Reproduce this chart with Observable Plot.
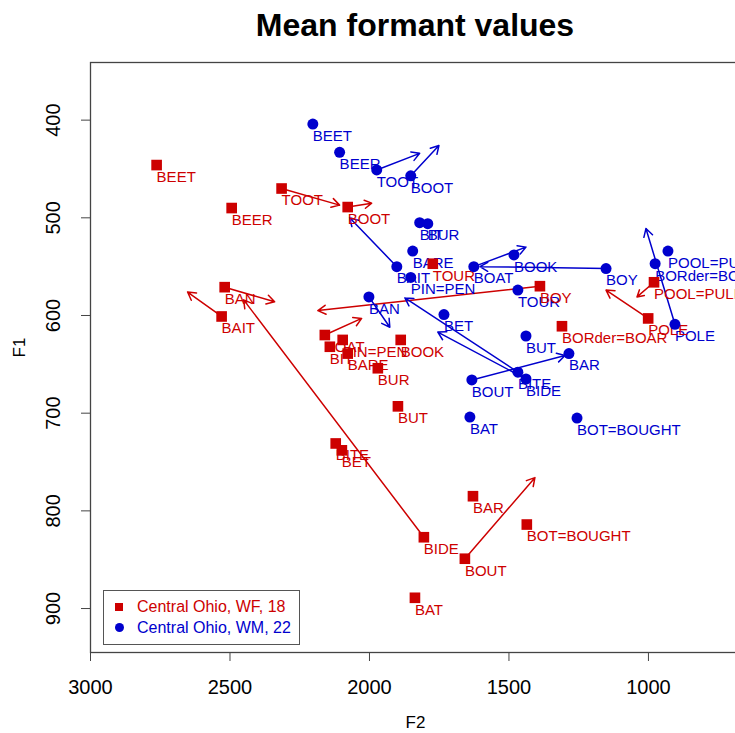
<!DOCTYPE html>
<html><head><meta charset="utf-8">
<script src="https://cdn.jsdelivr.net/npm/d3@7"></script>
<script src="https://cdn.jsdelivr.net/npm/@observablehq/plot@0.6"></script>
<style>
html,body{margin:0;padding:0;background:#fff;overflow:hidden;}
#wrap{position:relative;width:735px;height:733px;overflow:hidden;font-family:"Liberation Sans",Arial,Helvetica,sans-serif;}
#title{position:absolute;left:90px;width:650px;top:7px;text-align:center;font-weight:bold;font-size:32px;color:#000;}
#legend{position:absolute;left:103px;top:590px;width:197px;height:55px;box-sizing:border-box;border:1.5px solid #555;background:#fff;padding-top:5px;}
#legend .row{height:21px;line-height:21px;font-size:16px;white-space:nowrap;position:relative;padding-left:33px;}
#legend .sq{position:absolute;left:11px;top:7px;width:8px;height:8px;background:#cd0000;}
#legend .ci{position:absolute;left:11px;top:6px;width:9px;height:9px;border-radius:50%;background:#0000cd;}
</style></head>
<body>
<div id="wrap">
  <div id="chart"></div>
  <div id="title">Mean formant values</div>
  <div id="legend">
    <div class="row"><span class="sq"></span><span style="color:#cd0000">Central Ohio, WF, 18</span></div>
    <div class="row"><span class="ci"></span><span style="color:#0000cd">Central Ohio, WM, 22</span></div>
  </div>
</div>
<script>
// ---- data ----
const xTicks = [3000, 2500, 2000, 1500, 1000];
const yTicks = [400, 500, 600, 700, 800, 900];

// Central Ohio, WF, 18 (red squares)
const wfWords = ["BEET","BEER","TOOT","BOOT","BAN","BAIT","BOAT","BIT","PIN=PEN","BARE","BOOK","BUR","BUT","BITE","BET","BIDE","BOUT","BAR","BOT=BOUGHT","BAT","TOUR","BOY","BORder=BOAR","POLE","POOL=PULL"];
const wfF2 = [2763,2494,2315,2078,2519,2530,2160,2142,2096,2078,1888,1970,1898,2121,2099,1805,1658,1629,1436,1837,1773,1389,1310,1001,980];
const wfF1 = [446,490,470,489,571,601,620,632,625,639,625,654,693,731,738,827,849,785,814,889,547,570,611,603,566];
const wfF2end = [null,null,2107,1992,2340,2652,2028,null,null,null,null,null,null,null,null,2451,1407,null,null,null,null,2185,null,1152,1041];
const wfF1end = [null,null,487,485,586,576,603,null,null,null,null,null,null,null,null,584,766,null,null,null,null,595,null,574,581];

// Central Ohio, WM, 22 (blue circles)
const wmWords = ["BEET","BEER","TOOT","BOOT","BIT","BUR","BARE","BAIT","PIN=PEN","BOAT","BOOK","TOUR","BOY","BAN","BET","BUT","BAR","BOUT","BITE","BIDE","BAT","BOT=BOUGHT","POOL=PULL","BORder=BOAR","POLE"];
const wmF2 = [2203,2107,1974,1852,1820,1791,1845,1902,1852,1626,1482,1468,1152,2002,1733,1439,1285,1633,1468,1439,1640,1256,930,976,905];
const wmF1 = [404,433,451,457,505,506,534,550,561,550,538,574,552,581,599,621,639,666,658,665,704,705,534,547,609];
const wmF2end = [null,null,1820,1751,null,null,null,2071,null,1439,null,null,1604,1927,null,null,null,1299,1873,1755,null,null,null,null,1009];
const wmF1end = [null,null,434,426,null,null,null,500,null,530,null,null,550,612,null,null,null,641,582,617,null,null,null,null,511];

const RED = "#cd0000", BLUE = "#0000cd";

const rows = (w, f2, f1, e2, e1) => w.map((word, i) => ({word, F2: f2[i], F1: f1[i], F2end: e2[i], F1end: e1[i]}));
const wf = rows(wfWords, wfF2, wfF1, wfF2end, wfF1end);
const wm = rows(wmWords, wmF2, wmF1, wmF2end, wmF1end);
const wfArrows = wf.filter(d => d.F2end != null);
const wmArrows = wm.filter(d => d.F2end != null);

const chart = Plot.plot({
  width: 740,
  height: 733,
  marginTop: 62,
  marginBottom: 81,
  marginLeft: 90,
  marginRight: 0,
  style: {fontFamily: '"Liberation Sans", Arial, Helvetica, sans-serif', maxWidth: "none", background: "white", overflow: "visible"},
  x: {domain: [3000, 670]},
  y: {domain: [945, 341]},
  marks: [
    Plot.frame({stroke: "#444", strokeWidth: 1.3}),
    Plot.axisX({ticks: xTicks, tickFormat: d => String(d), tickSize: 9, tickPadding: 18, fontSize: 20, label: null, stroke: "#444"}),
    Plot.axisY({ticks: yTicks, tickFormat: d => String(d), tickSize: 9, tickRotate: -90, tickPadding: 22, fontSize: 20, label: null, stroke: "#444"}),
    Plot.text(["F2"], {text: d => d, frameAnchor: "bottom", dy: 75, fontSize: 17}),
    Plot.text(["F1"], {text: d => d, frameAnchor: "left", dx: -71, rotate: -90, fontSize: 17}),
    Plot.arrow(wfArrows, {x1: "F2", y1: "F1", x2: "F2end", y2: "F1end", stroke: RED, strokeWidth: 1.5, headLength: 9}),
    Plot.arrow(wmArrows, {x1: "F2", y1: "F1", x2: "F2end", y2: "F1end", stroke: BLUE, strokeWidth: 1.5, headLength: 9}),
    Plot.text(wm, {x: "F2", y: "F1", text: "word", fill: BLUE, textAnchor: "start", dy: 12, fontSize: 15}),
    Plot.dot(wf, {x: "F2", y: "F1", symbol: "square", r: 6, fill: RED}),
    Plot.text(wf, {x: "F2", y: "F1", text: "word", fill: RED, textAnchor: "start", dy: 12, fontSize: 15}),
    Plot.dot(wm, {x: "F2", y: "F1", r: 5.5, fill: BLUE})
  ]
});
document.getElementById("chart").appendChild(chart);
</script>
</body></html>
